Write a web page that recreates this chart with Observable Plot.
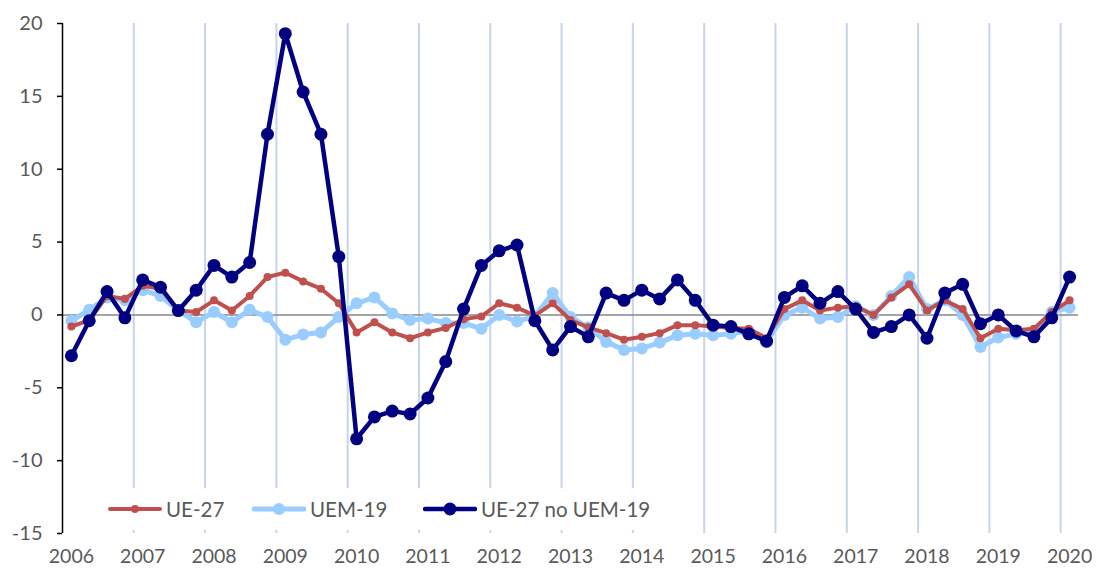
<!DOCTYPE html>
<html>
<head>
<meta charset="utf-8">
<script src="https://cdn.jsdelivr.net/npm/d3@7"></script>
<script src="https://cdn.jsdelivr.net/npm/@observablehq/plot@0.6"></script>
<style>
  body { margin: 0; background: #fff; }
  #wrap { position: relative; width: 1096px; height: 571px; font-family: Lato, "Liberation Sans", sans-serif; }
  #legend { position: absolute; left: 96px; top: 488px; width: 570px; height: 42px; background: #fff; }
  .item { position: absolute; top: 0; height: 42px; display: flex; align-items: center; font-size: 20.5px; color: #595959; }
  .item svg { display: block; margin-right: 4px; }
</style>
</head>
<body>
<div id="wrap"></div>
<script>
// Quarterly series, 2006Q1 .. 2020Q1
const years = [2006,2007,2008,2009,2010,2011,2012,2013,2014,2015,2016,2017,2018,2019,2020];
const yTicks = [-15,-10,-5,0,5,10,15,20];
const seriesNames = ["UE-27", "UEM-19", "UE-27 no UEM-19"];
const seriesColors = ["#c0504d", "#99ccff", "#000080"];

const ue27 = [-0.8,-0.35,1.3,1.1,2.0,1.8,0.3,0.2,1.0,0.3,1.3,
  2.6,2.9,2.3,1.8,0.8,-1.2,-0.5,-1.2,-1.6,-1.2,
  -0.9,-0.3,-0.1,0.8,0.5,-0.05,0.8,-0.35,-0.85,-1.25,
  -1.7,-1.5,-1.25,-0.7,-0.7,-0.8,-0.9,-0.95,-1.6,0.4,
  1.0,0.3,0.5,0.6,0.0,1.2,2.1,0.3,1.0,0.4,
  -1.6,-0.95,-1.05,-0.95,0.2,1.0];

const uem19 = [-0.4,0.35,1.2,1.0,1.7,1.3,0.3,-0.5,0.2,-0.5,0.35,
  -0.15,-1.7,-1.35,-1.2,-0.15,0.8,1.2,0.1,-0.35,-0.25,
  -0.55,-0.55,-0.95,0.0,-0.45,-0.1,1.5,-0.15,-0.85,-1.85,
  -2.4,-2.3,-1.9,-1.4,-1.3,-1.4,-1.3,-1.1,-1.85,0.0,
  0.5,-0.25,-0.15,0.6,0.0,1.3,2.6,0.4,1.0,0.0,
  -2.2,-1.55,-1.3,-1.1,0.2,0.5];

const ue27NoUem = [-2.8,-0.4,1.6,-0.2,2.4,1.9,0.3,1.7,3.4,2.6,3.6,
  12.4,19.3,15.3,12.4,4.0,-8.5,-7.0,-6.6,-6.8,-5.7,
  -3.2,0.4,3.4,4.4,4.8,-0.4,-2.4,-0.8,-1.5,1.5,
  1.0,1.7,1.1,2.4,1.0,-0.7,-0.8,-1.3,-1.8,1.2,
  2.0,0.8,1.6,0.4,-1.2,-0.8,0.0,-1.6,1.5,2.1,
  -0.6,0.0,-1.1,-1.5,-0.2,2.6];

const toRows = arr => arr.map((v, i) => ({i, v}));
const rRed = toRows(ue27), rLight = toRows(uem19), rDark = toRows(ue27NoUem);
const n = ue27.length;
const yearIdx = years.map((y, k) => 4 * k);
const boundaries = years.slice(1).map((y, k) => 4 * (k + 1) - 0.5);

const chart = Plot.plot({
  width: 1096,
  height: 571,
  marginLeft: 62,
  marginRight: 18,
  marginTop: 23,
  marginBottom: 38,
  style: {fontFamily: "Lato, 'Liberation Sans', sans-serif", fontSize: "20px", color: "#595959", background: "#fff"},
  x: {type: "linear", domain: [-0.5, n - 0.5]},
  y: {domain: [-15, 20]},
  marks: [
    Plot.ruleX(boundaries, {stroke: "#c6d5ec", strokeWidth: 2}),
    Plot.ruleY([0], {stroke: "#878787", strokeWidth: 1.5}),
    Plot.ruleX([-0.5], {stroke: "#000", strokeWidth: 1.5}),
    Plot.axisY({ticks: yTicks, tickSize: 5, tickPadding: 15, stroke: "#000", strokeWidth: 1.5, fill: "#595959", fontSize: 20, label: null, tickFormat: d => d}),
    Plot.axisX({ticks: yearIdx, tickSize: 0, tickPadding: 16, fill: "#595959", fontSize: 19.5, label: null, tickFormat: i => String(years[i / 4])}),
    Plot.line(rLight, {x: "i", y: "v", stroke: seriesColors[1], strokeWidth: 5}),
    Plot.dot(rLight, {x: "i", y: "v", r: 6, fill: seriesColors[1]}),
    Plot.line(rRed, {x: "i", y: "v", stroke: seriesColors[0], strokeWidth: 4}),
    Plot.dot(rRed, {x: "i", y: "v", r: 4, fill: seriesColors[0]}),
    Plot.line(rDark, {x: "i", y: "v", stroke: seriesColors[2], strokeWidth: 4.5}),
    Plot.dot(rDark, {x: "i", y: "v", r: 6.5, fill: seriesColors[2]})
  ]
});

const wrap = document.getElementById("wrap");
wrap.appendChild(chart);

// Legend
const legend = document.createElement("div");
legend.id = "legend";
const lefts = [12, 156, 327];
const markerR = [4, 6, 6.5];
const lineW = [4, 5, 4.5];
seriesNames.forEach((name, k) => {
  const item = document.createElement("div");
  item.className = "item";
  item.style.left = lefts[k] + "px";
  item.innerHTML = `<svg width="54" height="20"><line x1="2" y1="10" x2="52" y2="10" stroke="${seriesColors[k]}" stroke-width="${lineW[k]}" stroke-linecap="round"/><circle cx="27" cy="10" r="${markerR[k]}" fill="${seriesColors[k]}"/></svg><span>${name}</span>`;
  legend.appendChild(item);
});
wrap.appendChild(legend);
</script>
</body>
</html>
